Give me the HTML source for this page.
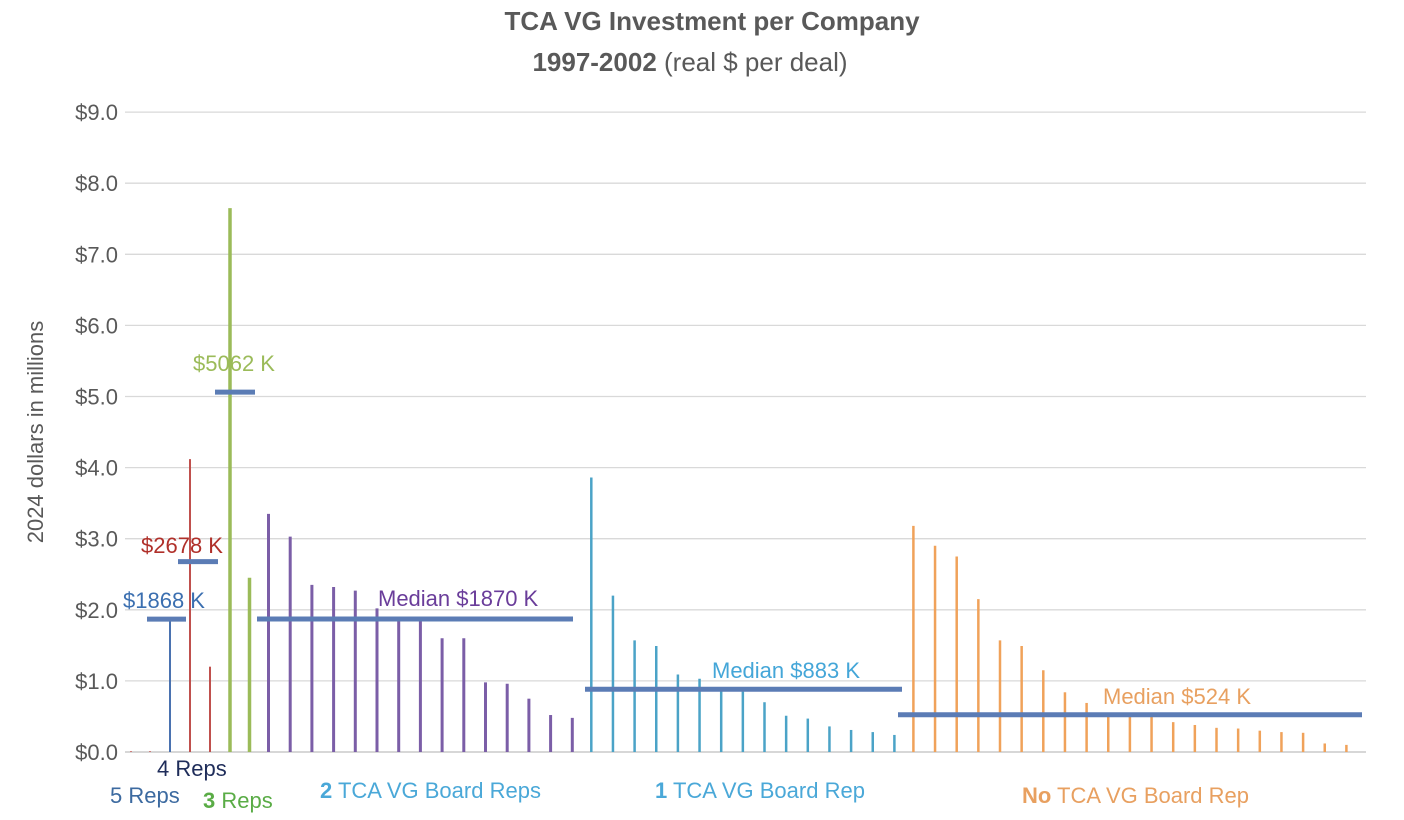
<!DOCTYPE html>
<html><head><meta charset="utf-8"><style>
body{margin:0;background:#fff;}
svg{display:block;font-family:"Liberation Sans",sans-serif;}
</style></head><body>
<svg id="chart" width="1404" height="820" viewBox="0 0 1404 820">
<text x="712" y="30" text-anchor="middle" font-size="26" font-weight="bold" fill="#595959">TCA VG Investment per Company</text>
<text x="690" y="71" text-anchor="middle" font-size="26" fill="#595959"><tspan font-weight="bold">1997-2002</tspan> (real $ per deal)</text>
<text transform="translate(43,432) rotate(-90)" text-anchor="middle" font-size="22" fill="#595959">2024 dollars in millions</text>
<g id="grid"></g><g id="bars"></g><g id="medians"></g><g id="labels"></g>
</svg>
<script>
const yTicks=[0,1,2,3,4,5,6,7,8,9];
const colors={"5 Reps":"#c0504d","4 Reps":"#4a72b0","3 Reps":"#9bbb59","2 Reps":"#7b5ea7","1 Rep":"#4ba3c7","No Rep":"#f0a25a"};
const widths={"5 Reps":2,"4 Reps":2,"3 Reps":3.5,"2 Reps":3,"1 Rep":2.5,"No Rep":2.5};
const valFive=[0.01,0.01];
const valFour=[1.87];
const valRed=[4.12,1.2];
const valThree=[7.65,2.45];
const valTwo=[3.35,3.03,2.35,2.32,2.27,2.02,1.85,1.85,1.6,1.6,0.98,0.96,0.75,0.52,0.48];
const valOne=[3.86,2.2,1.57,1.49,1.09,1.03,0.9,0.85,0.7,0.51,0.47,0.36,0.31,0.28,0.24];
const valNone=[3.18,2.9,2.75,2.15,1.57,1.49,1.15,0.84,0.69,0.5,0.5,0.5,0.42,0.38,0.34,0.33,0.3,0.28,0.27,0.12,0.1];
const medianValues=[1.868,2.678,5.062,1.870,0.883,0.524];
const medianLabels=["$1868 K","$2678 K","$5062 K","Median $1870 K","Median $883 K","Median $524 K"];
const NS="http://www.w3.org/2000/svg";
const y=v=>752-v*71.1;
function mk(tag,attrs,parent){const e=document.createElementNS(NS,tag);for(const k in attrs)e.setAttribute(k,attrs[k]);document.getElementById(parent).appendChild(e);return e;}
yTicks.forEach(t=>{
 const l=mk('line',{x1:125,x2:1366,y1:y(t),y2:y(t),stroke:t===0?'#bfbfbf':'#d9d9d9','stroke-width':1.3},'grid');
 
 
 const tx=mk('text',{x:118,y:y(t)+8,'text-anchor':'end','font-size':22,fill:'#595959'},'grid');
 tx.textContent='$'+t.toFixed(1);
 
 
});
const series=[["5 Reps",valFive,19],["4 Reps",valFour,20],["5 Reps",valRed,20],["3 Reps",valThree,19.5],["2 Reps",valTwo,21.7],["1 Rep",valOne,21.65],["No Rep",valNone,21.65]];
let px=111;
series.forEach(([g,vals,step],gi)=>{
 vals.forEach((v,j)=>{
  px+= (j===0 ? (gi<4?20:19) : step);
  const b=mk('line',{x1:px,x2:px,y1:752,y2:y(v),stroke:colors[g],'stroke-width':widths[g]},'bars');
  
  
 });
});
const medSpans=[[147,186],[178,218],[215,255],[257,573],[585,902],[898,1362]];
const labPos=[[123,608,'#3b6fb0'],[141,553,'#b0302a'],[193,371,'#9bbb59'],[378,606,'#6a3d9a'],[712,678,'#44a6d8'],[1103,704,'#e8a060']];
medianValues.forEach((m,i)=>{
 const l=mk('line',{x1:medSpans[i][0],x2:medSpans[i][1],y1:y(m),y2:y(m),stroke:'#5b7cb5','stroke-width':5},'medians');
 
 
 const t=mk('text',{x:labPos[i][0],y:labPos[i][1],'font-size':22,fill:labPos[i][2]},'labels');
 t.textContent=medianLabels[i];
 
 
});
</script>
<svg style="position:absolute;left:0;top:0" width="1404" height="820" font-family="Liberation Sans, sans-serif" font-size="22">
<text x="157" y="776" fill="#1f2d5a">4 Reps</text>
<text x="110" y="803" fill="#3c6aa0">5 Reps</text>
<text x="203" y="808" fill="#5aac46"><tspan font-weight="bold">3</tspan> Reps</text>
<text x="320" y="798" fill="#4aa8d8"><tspan font-weight="bold">2</tspan> TCA VG Board Reps</text>
<text x="655" y="798" fill="#4aa8d8"><tspan font-weight="bold">1</tspan> TCA VG Board Rep</text>
<text x="1022" y="803" fill="#e8a060"><tspan font-weight="bold">No</tspan> TCA VG Board Rep</text>
</svg>
</body></html>
